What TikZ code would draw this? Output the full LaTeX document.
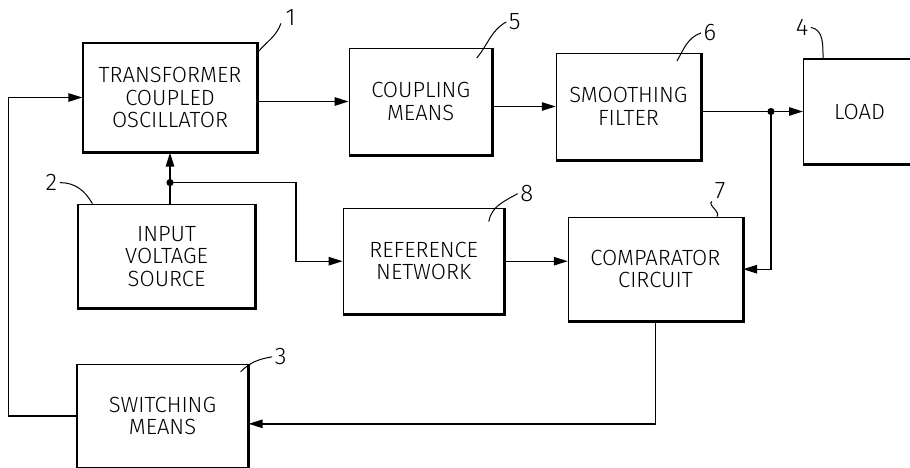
\documentclass[tikz,border=0pt]{standalone}
\usepackage{fontspec}
\setmainfont{Fira Sans Light}
\usepackage{tikz}
\usetikzlibrary{arrows.meta}
\usetikzlibrary{positioning}

\begin{document}
\begin{tikzpicture}[->,>={Triangle[length=7pt,width=4.2pt]},line width=0.7pt,
    block/.style={draw,line width=0.6pt,align=center,minimum height=53pt,inner sep=2pt,
                  font=\fontsize{11}{11.2}\selectfont},
    tag/.style={font=\fontsize{12}{12}\selectfont,inner sep=1pt},
    leader/.style={-,line width=0.5pt},
    dot/.style={circle,fill,inner sep=0pt,minimum size=3.6pt}]

  \useasboundingbox (0,0) rectangle (455pt,-233.5pt);

  \node[block,minimum width=87pt,minimum height=54.5pt] (osc) at (85pt,-48.75pt) {TRANSFORMER\\COUPLED\\OSCILLATOR};
  \node[block,minimum width=71.5pt] (coup) [right=45.5pt of osc,yshift=-2pt] {COUPLING\\MEANS};
  \node[block,minimum width=72pt] (filt) [right=31.5pt of coup,yshift=-2.5pt] {SMOOTHING\\FILTER};
  \node[block,minimum width=56pt,minimum height=52.5pt] (load) [right=51pt of filt,yshift=-2.5pt] {LOAD};
  \node[block,minimum width=88.5pt,minimum height=52pt] (src) [below=25.5pt of osc,xshift=-1.75pt] {INPUT\\VOLTAGE\\SOURCE};
  \node[block,minimum width=80.5pt] (ref) [right=43.5pt of src,yshift=-2.5pt] {REFERENCE\\NETWORK};
  \node[block,minimum width=87pt,minimum height=52pt] (comp) [right=31.5pt of ref,yshift=-4pt] {COMPARATOR\\CIRCUIT};
  \node[block,minimum width=85.5pt,minimum height=51.5pt] (sw) [below=27.5pt of src,xshift=-2pt] {SWITCHING\\MEANS};

  % heavy lower and right edges
  \foreach \b in {osc,coup,filt,load,src,ref,comp,sw}
    \draw[-,line width=1.5pt] (\b.north east) -- (\b.south east) -- (\b.south west);

  % reference numerals
  \node[tag] (tag1) at ([shift={(16.5pt,12.5pt)}]osc.north east) {1};
  \node[tag] (tag5) at ([shift={(11pt,13pt)}]coup.north east) {5};
  \node[tag] (tag6) at ([shift={(4.5pt,10pt)}]filt.north east) {6};
  \node[tag] (tag4) at ([shift={(-0.5pt,15.5pt)}]load.north west) {4};
  \node[tag] (tag2) at ([shift={(-13pt,10.5pt)}]src.north west) {2};
  \node[tag] (tag8) at ([shift={(11pt,7pt)}]ref.north east) {8};
  \node[tag] (tag7) at ([shift={(-11.5pt,13pt)}]comp.north east) {7};
  \node[tag] (tag3) at ([shift={(16pt,3.5pt)}]sw.north east) {3};

  \draw[leader] ([shift={(0,-5pt)}]osc.north east) to[out=50,in=-110] ([shift={(-1pt,-3pt)}]tag1.west);
  \draw[leader] ([shift={(-8pt,-5pt)}]coup.north east) to[out=50,in=-150] (tag5.west);
  \draw[leader] ([shift={(-12pt,-4pt)}]filt.north east) to[out=60,in=-160] (tag6.west);
  \draw[leader] (tag4.east) to[out=-10,in=90] ([shift={(10pt,0)}]load.north west);
  \draw[leader] (tag2.east) to[out=0,in=120] ([shift={(7.5pt,0)}]src.north west);
  \draw[leader] ([shift={(-8pt,-7pt)}]ref.north east) to[out=80,in=-150] (tag8.west);
  \draw[leader] ([shift={(-13pt,0)}]comp.north east) to[out=50,in=-150] (tag7.south west);
  \draw[leader] ([shift={(-4pt,-4pt)}]sw.north east) to[out=45,in=-170] (tag3.west);

  % junctions
  \path (osc.south) ++(0,-15pt) coordinate (split);
  \path (load.west) ++(-16pt,0) coordinate (tap);
  \node[dot] (splitdot) at (split) {};
  \node[dot] (tapdot) at (tap) {};

  % signal paths
  \draw (osc.east |- coup.west) -- (coup.west);
  \draw (coup.east |- filt.west) -- (filt.west);
  \draw (filt.east |- load.west) -- (load.west);
  \draw (osc.south |- src.north) -- (osc.south);
  \draw (split) -- ++(63pt,0) |- (ref.west);
  \draw (ref.east) -- (ref.east -| comp.west);
  \draw (tap) |- (comp.east);
  \draw (comp.south) -- ++(0,-51pt) coordinate (cb) -- (cb -| sw.east);
  \draw (sw.west) -- ++(-34pt,0) |- (osc.west);
\end{tikzpicture}
\end{document}
